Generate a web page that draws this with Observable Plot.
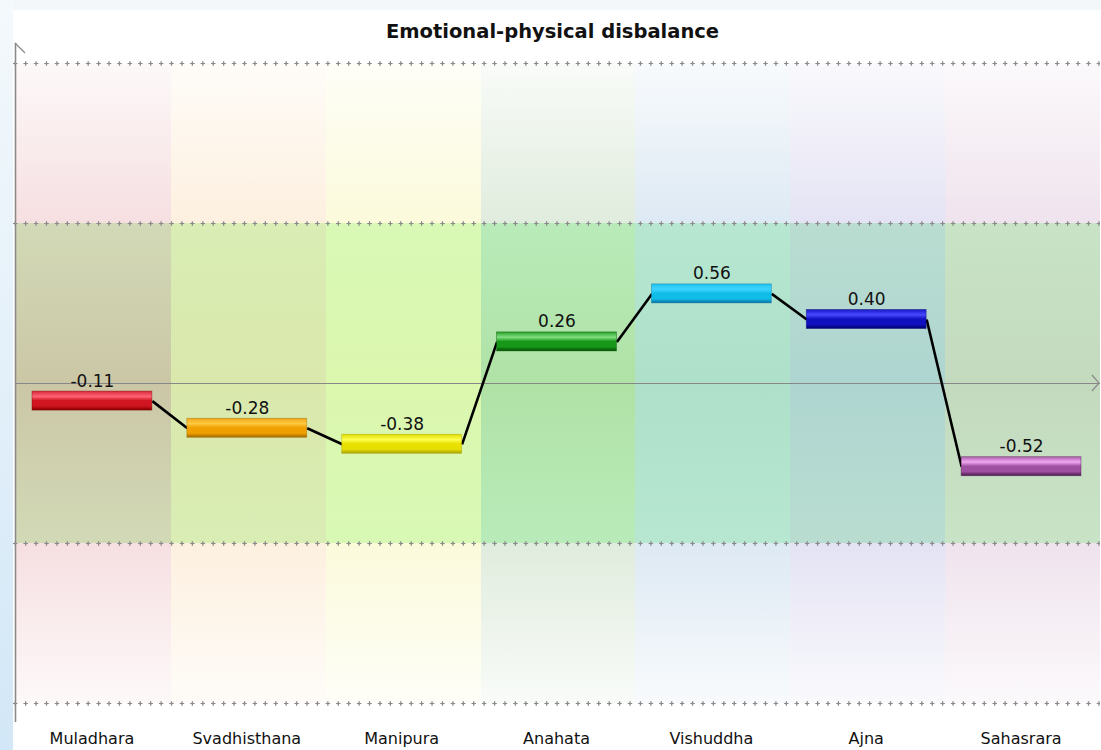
<!DOCTYPE html>
<html><head><meta charset="utf-8">
<script src="https://cdn.jsdelivr.net/npm/d3@7"></script>
<script src="https://cdn.jsdelivr.net/npm/@observablehq/plot@0.6"></script>
<style>
body{margin:0;background:#f4f7fa;width:1101px;height:750px;overflow:hidden;position:relative;font-family:"DejaVu Sans",sans-serif;}
#strip{position:absolute;left:0;top:0;width:13px;height:750px;background:linear-gradient(#f4f9fc,#d2e7f7);}
#paper{position:absolute;left:13px;top:10px;width:1088px;height:740px;background:#fff;}
#chart{position:absolute;left:0;top:0;}
</style></head><body>
<div id="strip"></div><div id="paper"></div><div id="chart"></div>
<script>
const title = "Emotional-physical disbalance";
const chakras = ["Muladhara","Svadhisthana","Manipura","Anahata","Vishuddha","Ajna","Sahasrara"];
const values = [-0.11, -0.28, -0.38, 0.26, 0.56, 0.40, -0.52];
const gridLevels = [-2, -1, 1, 2];
// bar gradient colours: [top, highlight, base, dark]
const barColors = [
  ["#d8283a","#ff6474","#d01420","#840000"],
  ["#f0a818","#ffc840","#f0a000","#a06800"],
  ["#e0dc00","#ffff50","#e8e000","#a8a000"],
  ["#28a028","#80e080","#189818","#005000"],
  ["#20c4f0","#40d4ff","#10bce8","#0870a0"],
  ["#1818c8","#4848ff","#1010c0","#000070"],
  ["#b060b0","#f0a8f0","#a050a0","#481848"]
];
const outerColors = ["#f6dfe1","#fdf0df","#fbfadb","#e0ecdd","#dde9f3","#e4e3f4","#efe3ed"];
const midEdgeColors = ["#d2d9b6","#d9edb4","#d8f9b5","#b8ebb9","#b7e7d0","#b9ddd0","#c8e3c5"];
const midCenterColors = ["#cbc7a6","#dae8ac","#dcf7ae","#b0e2a6","#aee0ca","#afd5d1","#c4dabf"];

const rows = chakras.map((name, i) => ({name, i, v: values[i]}));
const pairs = rows.slice(0, -1).map((d, k) => ({i: d.i, v: d.v, vNext: rows[k + 1].v}));

const W = 1101, H = 750, mL = 16, mR = 1, mT = 63, mB = 47;
const colW = (W - mL - mR) / chakras.length;
const insetL = 16, insetR = 19;

const marks = [];
rows.forEach(d => {
  const bg = {x1: r => r.i, x2: r => r.i + 1, shapeRendering: "crispEdges"};
  marks.push(Plot.rect([d], {...bg, y1: 1, y2: 2, fill: `url(#top${d.i})`}));
  marks.push(Plot.rect([d], {...bg, y1: -1, y2: 1, fill: `url(#mid${d.i})`}));
  marks.push(Plot.rect([d], {...bg, y1: -2, y2: -1, fill: `url(#bot${d.i})`}));
});
marks.push(Plot.ruleY(gridLevels, {stroke: "#8a8a8a", strokeWidth: 1.2, insetLeft: -3, strokeDasharray: "4.5,5.92"}));
marks.push(Plot.ruleY(gridLevels, {stroke: "#8a8a8a", strokeWidth: 4.5, insetLeft: -3, strokeDasharray: "1.3,9.12", strokeDashoffset: -1.6}));
marks.push(Plot.ruleY([0], {stroke: "#888", strokeWidth: 1.2}));
marks.push(Plot.ruleX([0], {stroke: "#8a8a8a", strokeWidth: 1.6, dx: -1, insetTop: -20, insetBottom: -19}));
marks.push(Plot.link(pairs, {
  x1: d => d.i + 1 - insetR / colW, y1: "v",
  x2: d => d.i + 1 + insetL / colW, y2: "vNext",
  stroke: "#000", strokeWidth: 2.6
}));
rows.forEach(d => {
  marks.push(Plot.rect([d], {
    x1: r => r.i, x2: r => r.i + 1, y1: "v", y2: "v",
    insetLeft: insetL, insetRight: insetR, insetTop: -9.5, insetBottom: -9.5,
    fill: `url(#bar${d.i})`, stroke: barColors[d.i][3], strokeWidth: 0.8, strokeOpacity: 0.5
  }));
});
marks.push(Plot.text(rows, {x: d => d.i + 0.5, y: "v", text: d => d.v.toFixed(2), dy: -20, dx: -1.5, fontSize: 17, fill: "#111"}));
marks.push(Plot.text(rows, {x: d => d.i + 0.5, text: "name", frameAnchor: "bottom", lineAnchor: "middle", dy: 35, dx: -2, fontSize: 16, fill: "#111"}));
marks.push(Plot.text([title], {text: d => d, frameAnchor: "top", lineAnchor: "middle", dy: -32, dx: -6, fontSize: 19.5, fontWeight: "bold", fill: "#111"}));

const svg = Plot.plot({
  width: W, height: H,
  marginLeft: mL, marginRight: mR, marginTop: mT, marginBottom: mB,
  style: {background: "transparent", fontFamily: "DejaVu Sans, sans-serif"},
  x: {domain: [0, chakras.length], axis: null},
  y: {domain: [-2, 2], axis: null},
  marks
});

const s = d3.select(svg);
const defs = s.insert("defs", ":first-child");
function vgrad(id, stops) {
  const g = defs.append("linearGradient").attr("id", id).attr("x1", 0).attr("y1", 0).attr("x2", 0).attr("y2", 1);
  stops.forEach(([o, c, op]) => g.append("stop").attr("offset", o).attr("stop-color", c).attr("stop-opacity", op == null ? 1 : op));
}
rows.forEach(d => {
  const i = d.i;
  vgrad(`top${i}`, [[0, outerColors[i], 0.2], [1, outerColors[i], 1]]);
  vgrad(`bot${i}`, [[0, outerColors[i], 1], [1, outerColors[i], 0.2]]);
  vgrad(`mid${i}`, [[0, midEdgeColors[i]], [0.5, midCenterColors[i]], [1, midEdgeColors[i]]]);
  const [t, hl, b, dk] = barColors[i];
  vgrad(`bar${i}`, [[0, t], [0.28, hl], [0.5, b], [0.78, b], [1, dk]]);
});
// axis arrowheads (decoration)
const zeroY = mT + (H - mT - mB) / 2;
s.append("path").attr("d", `M${W - 9},${zeroY - 8}L${W - 2},${zeroY}L${W - 9},${zeroY + 8}`)
  .attr("fill", "none").attr("stroke", "#8a8a8a").attr("stroke-width", 1.2);
s.append("path").attr("d", `M${mL - 1},${mT - 20}L${mL + 9},${mT - 10}`)
  .attr("fill", "none").attr("stroke", "#8a8a8a").attr("stroke-width", 1.2);

document.getElementById("chart").appendChild(svg);
</script>
</body></html>
